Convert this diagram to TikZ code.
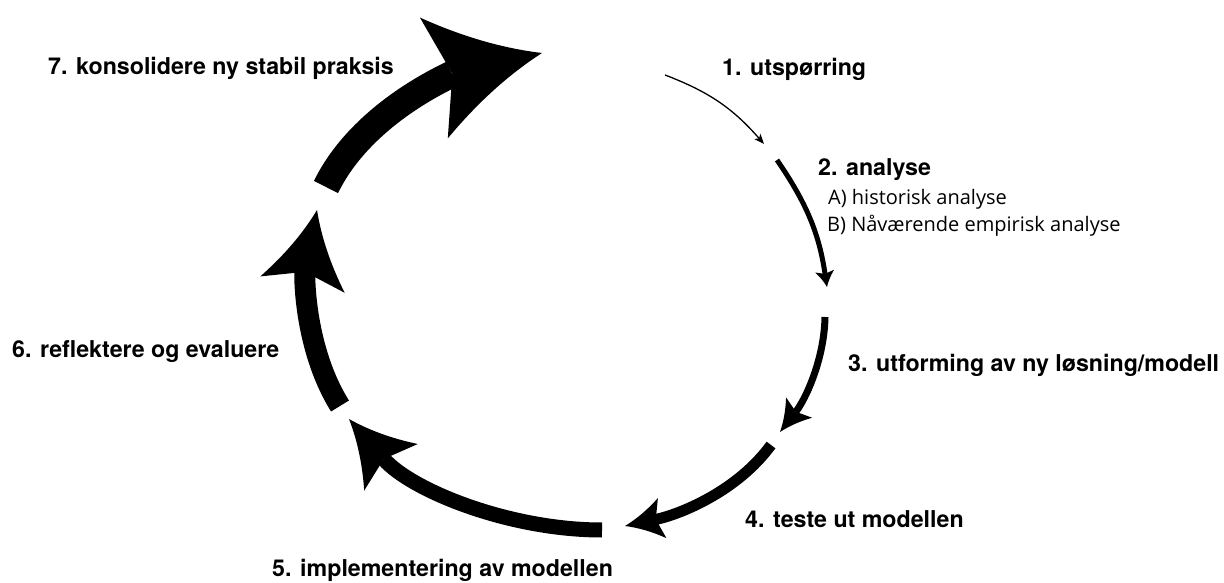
\documentclass[tikz,border=0pt]{standalone}
\usepackage{fontspec}
\setmainfont{TeX Gyre Heros}
\newfontfamily\subfont{Open Sans}
\usetikzlibrary{arrows.meta}

% Arrow head with concave sides and a notched back
\newdimen\swooshlineend
\pgfdeclarearrow{
  name = Swoosh,
  defaults = {length = +20pt, width = +22pt, inset = +3pt},
  parameters = {\the\pgfarrowlength,\the\pgfarrowwidth,\the\pgfarrowinset},
  setup code = {
    \pgfarrowssettipend{0pt}
    \pgfarrowssetbackend{-\pgfarrowlength}
    \swooshlineend=\pgfarrowinset
    \advance\swooshlineend by -\pgfarrowlength
    \pgfarrowssetlineend{\swooshlineend}
    \pgfarrowssetvisualbackend{\swooshlineend}
    \pgfarrowssavethe\pgfarrowlength
    \pgfarrowssavethe\pgfarrowwidth
    \pgfarrowssavethe\pgfarrowinset
  },
  drawing code = {
    \pgfpathmoveto{\pgfqpoint{0pt}{0pt}}
    \pgfpathcurveto
      {\pgfpoint{-0.333\pgfarrowlength}{0.107\pgfarrowwidth}}
      {\pgfpoint{-0.667\pgfarrowlength}{0.273\pgfarrowwidth}}
      {\pgfpoint{-\pgfarrowlength}{0.5\pgfarrowwidth}}
    \pgfpathlineto{\pgfpoint{\pgfarrowinset-\pgfarrowlength}{0pt}}
    \pgfpathlineto{\pgfpoint{-\pgfarrowlength}{-0.5\pgfarrowwidth}}
    \pgfpathcurveto
      {\pgfpoint{-0.667\pgfarrowlength}{-0.273\pgfarrowwidth}}
      {\pgfpoint{-0.333\pgfarrowlength}{-0.107\pgfarrowwidth}}
      {\pgfqpoint{0pt}{0pt}}
    \pgfpathclose
    \pgfusepathqfill
  }
}

\tikzset{
  steplabel/.style={anchor=base west, inner sep=0pt,
    font=\bfseries\fontsize{23.2}{27}\selectfont},
  sublabel/.style={anchor=base west, inner sep=0pt,
    font=\subfont\fontsize{20}{24}\selectfont},
  cyc/.style={looseness=0.87},
}

\begin{document}
\begin{tikzpicture}[x=1pt,y=1pt]
\useasboundingbox (0,0) rectangle (1224,582);

% tail and head points of the seven cycle arrows
\coordinate (t1) at (665,507); \coordinate (h1) at (764,438);
\coordinate (t2) at (777,422); \coordinate (h2) at (827,295);
\coordinate (t3) at (825,265); \coordinate (h3) at (780,150);
\coordinate (t4) at (771,137); \coordinate (h4) at (625,56);
\coordinate (t5) at (602,52);  \coordinate (h5) at (349,163);
\coordinate (t6) at (340,176); \coordinate (h6) at (317,372);
\coordinate (t7) at (326,395); \coordinate (h7) at (542,529);

% arrows, growing thicker around the cycle
\draw[line width=1.3pt, -{Stealth[length=10pt,width=8pt,inset=2.5pt]}]
  (t1) to[bend left=14] (h1);
\draw[line width=5pt, -{Swoosh[length=16pt,width=19pt,inset=2.7pt]}]
  (t2) to[bend left=13] (h2);
\draw[cyc, line width=7pt, -{Swoosh[length=31pt,width=33pt,inset=5.3pt]}]
  (t3) to[out=269, in=52] (h3);
\draw[cyc, line width=11pt, -{Swoosh[length=38pt,width=41pt,inset=6.5pt]}]
  (t4) to[out=234, in=12] (h4);
\draw[cyc, line width=15pt, -{Swoosh[length=64pt,width=71pt,inset=11pt]}]
  (t5) to[out=180, in=311] (h5);
\draw[cyc, line width=21pt, -{Swoosh[length=76pt,width=86pt,inset=13pt]}]
  (t6) to[out=122, in=259] (h6);
\draw[cyc, line width=27pt, -{Swoosh[length=111pt,width=124pt,inset=19pt]}]
  (t7) to[out=64, in=193] (h7);

% step labels
\node[steplabel] (s1) at (722,506) {1. utspørring};
\node[steplabel] (s2) at (818,406) {2. analyse};
\node[sublabel]  (s2a) at (828,377) {A) historisk analyse};
\node[sublabel]  (s2b) at (827,350) {B) Nåværende empirisk analyse};
\node[steplabel] (s3) at (848,211) {3. utforming av ny løsning/modell};
\node[steplabel] (s4) at (745,55) {4. teste ut modellen};
\node[steplabel] (s5) at (272,6) {5. implementering av modellen};
\node[steplabel] (s6) at (12,225) {6. reflektere og evaluere};
\node[steplabel] (s7) at (48,507) {7. konsolidere ny stabil praksis};
\end{tikzpicture}
\end{document}
